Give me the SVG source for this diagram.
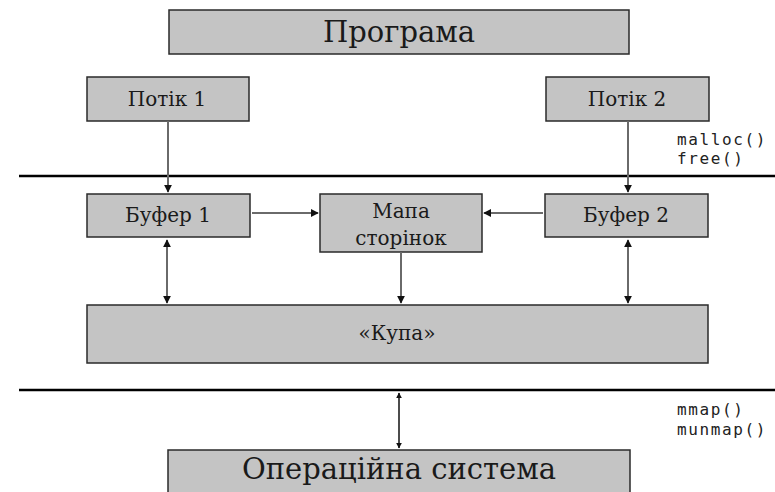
<svg xmlns="http://www.w3.org/2000/svg" width="775" height="492" viewBox="0 0 775 492">
  <style>
    .box { fill: #c4c4c4; stroke: #2a2a2a; stroke-width: 1.5; }
    .lbl { font-family: "DejaVu Serif", "Liberation Serif", serif; fill: #1a1a1a; text-anchor: middle; }
    .big { font-size: 29px; }
    .mid { font-size: 20px; }
    .mono { font-family: "DejaVu Sans Mono", "Liberation Mono", monospace; font-size: 16px; letter-spacing: 1.6px; fill: #222; }
    .link { stroke: #6a6a6a; stroke-width: 2; fill: none; }
    .linkdark { stroke: #111; stroke-width: 1.5; fill: none; }
    .rule { stroke: #000; stroke-width: 2.5; }
  </style>
  <defs>
    <marker id="ah" viewBox="0 0 10 10" refX="9" refY="5" markerWidth="4" markerHeight="4" orient="auto-start-reverse">
      <path d="M0,0 L10,5 L0,10 z" fill="#111"/>
    </marker>
  </defs>
  <rect width="775" height="492" fill="#fff"/>

  <!-- layer boundaries -->
  <line class="rule" x1="19" y1="176" x2="775" y2="176"/>
  <line class="rule" x1="19" y1="390" x2="775" y2="390"/>
  <text class="mono" x="677" y="145">malloc()</text>
  <text class="mono" x="677" y="164">free()</text>
  <text class="mono" x="677" y="415">mmap()</text>
  <text class="mono" x="677" y="435">munmap()</text>

  <g id="program">
    <rect class="box" x="169" y="10" width="460" height="44"/>
    <text class="lbl big" x="399" y="42">Програма</text>
  </g>
  <g id="thread1">
    <rect class="box" x="87" y="77" width="162" height="44"/>
    <text class="lbl mid" x="167" y="106">Потік 1</text>
  </g>
  <g id="thread2">
    <rect class="box" x="546" y="77" width="163" height="44"/>
    <text class="lbl mid" x="627" y="106">Потік 2</text>
  </g>
  <g id="buffer1">
    <rect class="box" x="87" y="194" width="163" height="43"/>
    <text class="lbl mid" x="168" y="222">Буфер 1</text>
  </g>
  <g id="pagemap">
    <rect class="box" x="320" y="194" width="162" height="58"/>
    <text class="lbl mid" x="401" y="218">Мапа</text>
    <text class="lbl mid" x="401" y="245">сторінок</text>
  </g>
  <g id="buffer2">
    <rect class="box" x="545" y="194" width="163" height="43"/>
    <text class="lbl mid" x="626" y="222">Буфер 2</text>
  </g>
  <g id="heap">
    <rect class="box" x="87" y="305" width="621" height="58"/>
    <text class="lbl mid" x="397" y="340">«Купа»</text>
  </g>
  <g id="os">
    <rect class="box" x="168" y="450" width="462" height="50"/>
    <text class="lbl big" x="399" y="479">Операційна система</text>
  </g>

  <g id="connectors">
    <line class="link" x1="168" y1="121" x2="168" y2="192" marker-end="url(#ah)"/>
    <line class="link" x1="628" y1="121" x2="628" y2="192" marker-end="url(#ah)"/>
    <line class="link" x1="252" y1="213" x2="318" y2="213" marker-end="url(#ah)"/>
    <line class="link" x1="543" y1="213" x2="484" y2="213" marker-end="url(#ah)"/>
    <line class="link" x1="167" y1="240" x2="167" y2="303" marker-start="url(#ah)" marker-end="url(#ah)"/>
    <line class="link" x1="628" y1="240" x2="628" y2="303" marker-start="url(#ah)" marker-end="url(#ah)"/>
    <line class="link" x1="401" y1="252" x2="401" y2="303" marker-end="url(#ah)"/>
    <line class="linkdark" x1="399" y1="393" x2="399" y2="448" marker-start="url(#ah)" marker-end="url(#ah)"/>
  </g>
</svg>
